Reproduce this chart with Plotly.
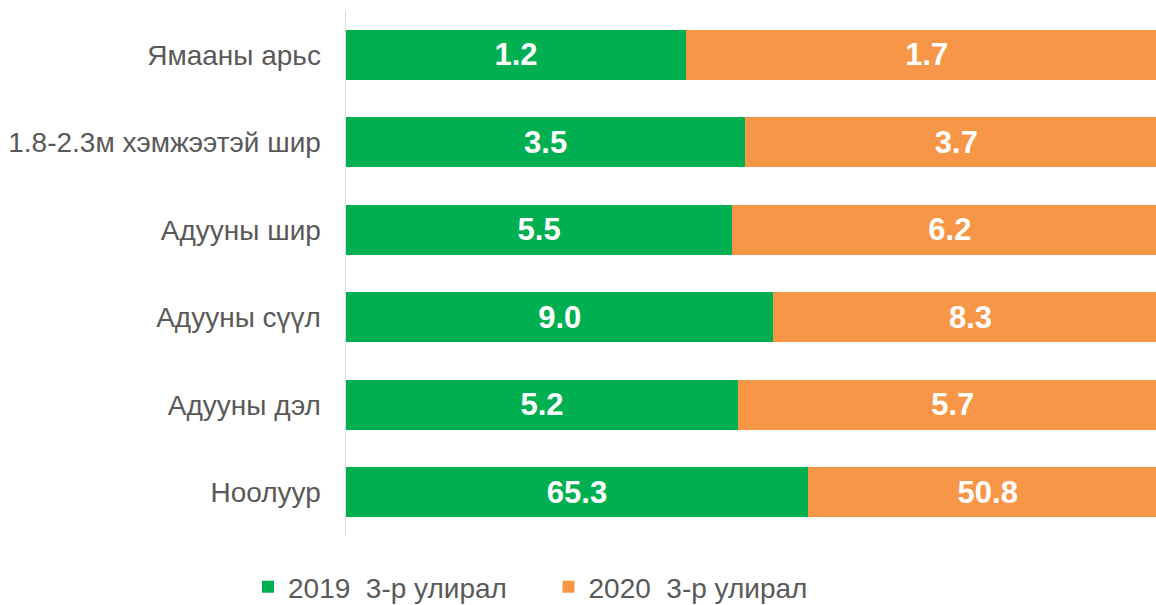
import plotly.graph_objects as go

categories = ["Ямааны арьс", "1.8-2.3м хэмжээтэй шир", "Адууны шир",
              "Адууны сүүл", "Адууны дэл", "Ноолуур"]
values_2019 = [1.2, 3.5, 5.5, 9.0, 5.2, 65.3]
values_2020 = [1.7, 3.7, 6.2, 8.3, 5.7, 50.8]
series_names = ["2019\u00a0\u00a03-р улирал", "2020\u00a0\u00a03-р улирал"]
colors = ["#00B050", "#F79646"]

W, H = 1156, 605

fig = go.Figure()
for name, vals, col in zip(series_names, [values_2019, values_2020], colors):
    fig.add_trace(go.Bar(
        y=categories, x=vals, orientation="h", name=name,
        marker=dict(color=col, line=dict(width=0)),
        text=vals, texttemplate="%{text:.1f}", textposition="inside",
        insidetextanchor="middle",
        insidetextfont=dict(family="Liberation Sans, Arial", size=31, color="white", weight="bold"),
        width=0.57, hoverinfo="skip",
    ))

fig.update_layout(
    barmode="stack", barnorm="percent",
    width=W, height=H,
    margin=dict(l=346, r=0, t=11, b=69),
    paper_bgcolor="white", plot_bgcolor="white",
    font=dict(family="Liberation Sans, Arial", size=28, color="#595959"),
    showlegend=True,
    legend=dict(orientation="h", xref="container", yref="container",
                x=248 / W, y=18 / H, xanchor="left", yanchor="middle",
                entrywidth=255.5, entrywidthmode="pixels",
                font=dict(size=28, color="#595959"), traceorder="normal"),
    xaxis=dict(range=[0, 98.6], showgrid=False, zeroline=False,
               showticklabels=False, showline=False, fixedrange=True),
    yaxis=dict(categoryorder="array", categoryarray=categories, autorange="reversed",
               showline=True, linecolor="#d9d9d9", linewidth=1.5,
               ticks="", ticklabelstandoff=18, showgrid=False,
               tickfont=dict(size=28, color="#595959")),
)

fig.write_html("out.html",
               config={"displayModeBar": False, "staticPlot": True},
               post_script="document.body.style.margin='0';document.body.style.overflow='hidden';")
